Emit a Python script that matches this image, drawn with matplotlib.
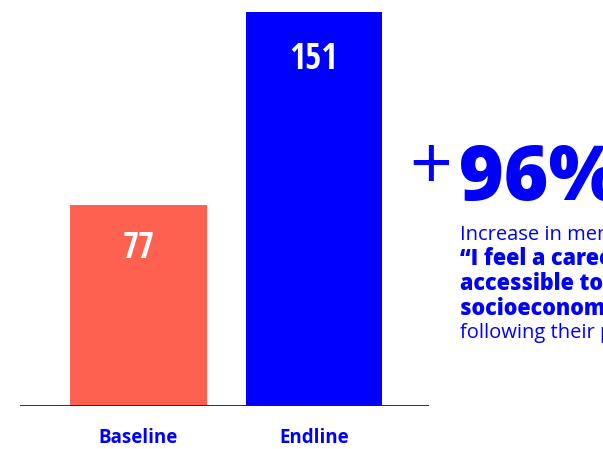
import matplotlib
matplotlib.use("Agg")
import matplotlib.pyplot as plt
from matplotlib import font_manager

categories = ["Baseline", "Endline"]
values = [77, 151]
bar_colors = ["#FF6150", "#0000FF"]
headline = "96%"
subtitle = "Increase in members who agree:"
quote_lines = ["\u201cI feel a career in this field is",
               "accessible to people of my",
               "socioeconomic background\u201d"]
footer = "following their participation"

names = {f.name for f in font_manager.fontManager.ttflist}
num_font = [f for f in ["Open Sans Condensed", "Roboto Condensed", "Open Sans"] if f in names][:1] + ["DejaVu Sans"]
txt_font = ["Open Sans", "DejaVu Sans"]
BLUE = "#0000FF"

W, H = 603, 449
fig = plt.figure(figsize=(W / 100, H / 100), dpi=100)
fig.patch.set_facecolor("white")

ax_l, ax_r, ax_top, ax_bot = 20, 429, 12, 406
ax = fig.add_axes([ax_l / W, 1 - ax_bot / H, (ax_r - ax_l) / W, (ax_bot - ax_top) / H])
x = list(range(len(categories)))
ax.bar(x, values, width=0.78, color=bar_colors, zorder=1)
ax.set_xlim(-0.675, 1.655)
ax.set_ylim(0, 151)
ax.axhline(0, color="#222222", lw=1.3, zorder=3)
for s in ax.spines.values():
    s.set_visible(False)
ax.set_yticks([])
ax.set_xticks(x)
ax.set_xticklabels(categories, fontfamily=txt_font, fontweight="bold",
                   fontsize=13.5, color=BLUE)
ax.tick_params(axis="x", length=0, pad=16)

label_offset = [17, 18.5]
for i, v in enumerate(values):
    ax.text(i, v - label_offset[i], str(v), ha="center", va="center", color="white",
            fontsize=25, fontweight="bold", fontfamily=num_font)

# right-side annotation
fig.text(431 / W, 1 - 170 / H, "+", fontsize=54, color=BLUE,
         fontfamily=txt_font, fontweight="normal", ha="center", va="center")
fig.text(459 / W, 1 - 200 / H, headline, fontsize=55, color=BLUE,
         fontfamily=txt_font, fontweight=800, ha="left", va="baseline")
fig.text(460 / W, 1 - 240 / H, subtitle, fontsize=14.5, color=BLUE,
         fontfamily=txt_font, fontweight="normal", ha="left", va="baseline")
for k, line in enumerate(quote_lines):
    fig.text(460 / W, 1 - (265 + 25 * k) / H, line, fontsize=15.5, color=BLUE,
             fontfamily=txt_font, fontweight=800, ha="left", va="baseline")
fig.text(460 / W, 1 - 338 / H, footer, fontsize=14.5, color=BLUE,
         fontfamily=txt_font, fontweight="normal", ha="left", va="baseline")

fig.savefig("out.png", dpi=100, facecolor="white")
